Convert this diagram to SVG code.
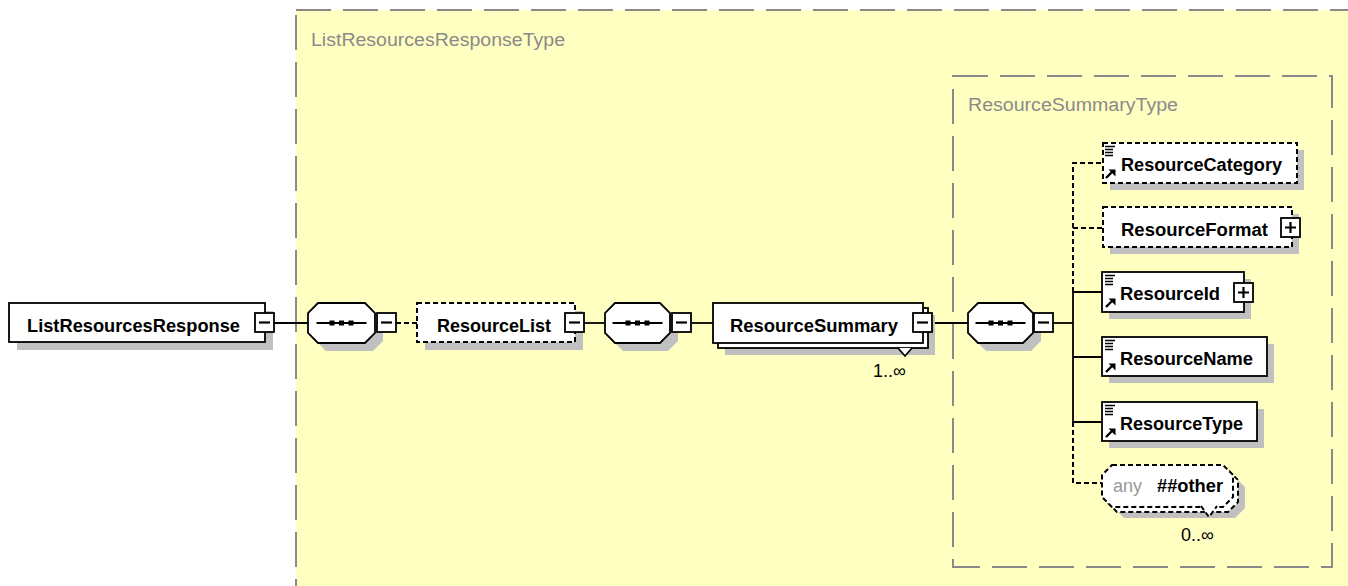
<svg xmlns="http://www.w3.org/2000/svg" xmlns:xlink="http://www.w3.org/1999/xlink" width="1348" height="586" viewBox="0 0 1348 586">
<style>
.bg{fill:#ffffff}
.type-area{fill:#ffffc2;stroke:#8a8a8a;stroke-width:2;stroke-dasharray:35 12}
.type-inner{fill:none;stroke:#8a8a8a;stroke-width:2;stroke-dasharray:35 12}
.shadow{fill:#c0c0c0;stroke:none}
.box{fill:#ffffff;stroke:#000;stroke-width:1.8}
.dbox{fill:#ffffff;stroke:#000;stroke-width:2;stroke-dasharray:5 3}
.btn{fill:#ffffff;stroke:#000;stroke-width:1.8}
.sign{stroke:#000;stroke-width:2.2;fill:none}
.conn{stroke:#000;stroke-width:1.8;fill:none}
.dconn{stroke:#000;stroke-width:2;fill:none;stroke-dasharray:5 3}
.name{font-family:"Liberation Sans",Arial,sans-serif;font-size:18px;font-weight:bold;fill:#000}
.tname{font-family:"Liberation Sans",Arial,sans-serif;font-size:18px;fill:#8a8a8a}
.card{font-family:"Liberation Sans",Arial,sans-serif;font-size:18px;fill:#000}
.any{font-family:"Liberation Sans",Arial,sans-serif;font-size:18px;fill:#999}
.icon{stroke:#000;stroke-width:1.4;fill:none}
</style>
<defs>
<g id="docicon">
<path class="icon" d="M3 3.5H13M3 6.5H11M3 9.5H11M3 12.5H11"/>
<path d="M4 35L10 29" stroke="#000" stroke-width="2.4"/>
<path d="M6.5 26.5H13.5V33.5Z" fill="#000"/>
</g>
<g id="seqicon">
<path d="M-25 0H25" stroke="#000" stroke-width="2.2"/>
<rect x="-12" y="-2.5" width="5" height="5" fill="#000"/>
<rect x="-2.5" y="-2.5" width="5" height="5" fill="#000"/>
<rect x="7" y="-2.5" width="5" height="5" fill="#000"/>
</g>
<g id="minus">
<rect class="btn" x="0" y="0" width="19" height="19"/>
<path class="sign" d="M4 9.5H15"/>
</g>
<g id="plus">
<rect class="btn" x="0" y="0" width="19" height="19"/>
<path class="sign" d="M4 9.5H15M9.5 4V15"/>
</g>
</defs>
<rect class="bg" x="0" y="0" width="1348" height="586"/>
<g id="ListResourcesResponseType">
<rect class="type-area" x="296" y="10" width="1200" height="700"/>
<text class="tname" x="311" y="46" textLength="254" lengthAdjust="spacingAndGlyphs">ListResourcesResponseType</text>
</g>
<g id="ResourceSummaryType">
<rect class="type-inner" x="953" y="76" width="379" height="491"/>
<text class="tname" x="968" y="111" textLength="210" lengthAdjust="spacingAndGlyphs">ResourceSummaryType</text>
</g>
<g id="connectors">
<path class="conn" d="M274 323H308"/>
<path class="dconn" d="M396 323H417"/>
<path class="conn" d="M583 323H605"/>
<path class="conn" d="M691 323H713"/>
<path class="conn" d="M932 323H968"/>
<path class="conn" d="M1053 323H1073"/>
<path class="dconn" d="M1073 292V163H1103M1073 228H1103"/>
<path class="conn" d="M1073 292V422M1073 292H1102M1073 357H1102M1073 422H1102"/>
<path class="dconn" d="M1073 422V483H1102"/>
</g>
<g id="ListResourcesResponse">
<rect class="shadow" x="17" y="311" width="256" height="39"/>
<rect class="box" x="9" y="303" width="256" height="39"/>
<text class="name" x="27" y="332" textLength="213" lengthAdjust="spacingAndGlyphs">ListResourcesResponse</text>
<use href="#minus" x="255" y="313"/>
</g>
<g id="sequence1">
<path class="shadow" d="M326 311H373L383 321V341L373 351H326L316 341V321Z"/>
<path class="box" d="M318 303H365L375 313V333L365 343H318L308 333V313Z"/>
<use href="#seqicon" x="341.5" y="323"/>
<use href="#minus" x="377" y="313"/>
</g>
<g id="ResourceList">
<rect class="shadow" x="425" y="311" width="158" height="39"/>
<rect class="dbox" x="417" y="303" width="158" height="39"/>
<text class="name" x="437" y="332" textLength="114" lengthAdjust="spacingAndGlyphs">ResourceList</text>
<use href="#minus" x="565" y="313"/>
</g>
<g id="sequence2">
<path class="shadow" d="M623 311H668L678 321V341L668 351H623L613 341V321Z"/>
<path class="box" d="M615 303H660L670 313V333L660 343H615L605 333V313Z"/>
<use href="#seqicon" x="637.5" y="323"/>
<use href="#minus" x="672" y="313"/>
</g>
<g id="ResourceSummary">
<rect class="shadow" x="725" y="315" width="210" height="40"/>
<rect class="box" x="718" y="308" width="210" height="40"/>
<rect class="box" x="713" y="303" width="210" height="40"/>
<path class="box" d="M898 348L905 356L912 348"/>
<text class="name" x="730" y="332" textLength="168" lengthAdjust="spacingAndGlyphs">ResourceSummary</text>
<use href="#minus" x="913" y="313"/>
<text class="card" x="873" y="377">1..∞</text>
</g>
<g id="sequence3">
<path class="shadow" d="M986 311H1031L1041 321V341L1031 351H986L976 341V321Z"/>
<path class="box" d="M978 303H1023L1033 313V333L1023 343H978L968 333V313Z"/>
<use href="#seqicon" x="1000.5" y="323"/>
<use href="#minus" x="1034" y="313"/>
</g>
<g id="ResourceCategory">
<rect class="shadow" x="1110" y="150" width="194" height="40"/>
<rect class="dbox" x="1103" y="143" width="194" height="40"/>
<use href="#docicon" x="1102" y="143"/>
<text class="name" x="1121" y="171" textLength="161" lengthAdjust="spacingAndGlyphs">ResourceCategory</text>
</g>
<g id="ResourceFormat">
<rect class="shadow" x="1110" y="214" width="189" height="40"/>
<rect class="dbox" x="1103" y="207" width="189" height="40"/>
<text class="name" x="1121" y="236" textLength="147" lengthAdjust="spacingAndGlyphs">ResourceFormat</text>
<use href="#plus" x="1281" y="218"/>
</g>
<g id="ResourceId">
<rect class="shadow" x="1109" y="279" width="142" height="40"/>
<rect class="box" x="1102" y="272" width="142" height="40"/>
<use href="#docicon" x="1102" y="272"/>
<text class="name" x="1120" y="300" textLength="100" lengthAdjust="spacingAndGlyphs">ResourceId</text>
<use href="#plus" x="1234" y="283"/>
</g>
<g id="ResourceName">
<rect class="shadow" x="1109" y="344" width="165" height="39"/>
<rect class="box" x="1102" y="337" width="165" height="39"/>
<use href="#docicon" x="1102" y="337"/>
<text class="name" x="1120" y="365" textLength="133" lengthAdjust="spacingAndGlyphs">ResourceName</text>
</g>
<g id="ResourceType">
<rect class="shadow" x="1109" y="409" width="155" height="39"/>
<rect class="box" x="1102" y="402" width="155" height="39"/>
<use href="#docicon" x="1102" y="402"/>
<text class="name" x="1120" y="430" textLength="123" lengthAdjust="spacingAndGlyphs">ResourceType</text>
</g>
<g id="any-other">
<path class="shadow" d="M1124 477H1235L1245 487V508L1235 518H1124L1114 508V487Z"/>
<path class="dbox" d="M1117 470H1228L1238 480V502L1228 512H1117L1107 502V480Z"/>
<path class="dbox" d="M1112 465H1223L1233 475V497L1223 507H1112L1102 497V475Z"/>
<path class="dbox" d="M1201 506L1209 517L1217 506"/>
<text class="any" x="1113" y="492">any</text>
<text class="name" x="1157" y="492" textLength="66" lengthAdjust="spacingAndGlyphs">##other</text>
<text class="card" x="1181" y="541">0..∞</text>
</g>
</svg>
